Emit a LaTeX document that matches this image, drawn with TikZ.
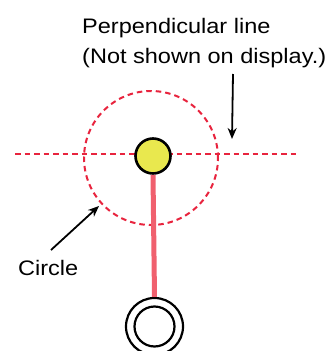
\documentclass[tikz,border=0pt]{standalone}
\usepackage{fontspec}
\setmainfont{Liberation Sans}
\newfontfamily\widefont[FakeStretch=1.12]{Liberation Sans}
\usetikzlibrary{arrows.meta}
\definecolor{dashred}{HTML}{E8243E}
\definecolor{linered}{HTML}{F0606E}
\definecolor{ballyellow}{HTML}{E9E84E}
\tikzset{
  guide/.style={draw=dashred, line width=2pt, dash pattern=on 5.5pt off 4pt},
  callout/.style={draw=black, line width=1.8pt, -{Stealth[length=11pt,width=9pt]}},
  lbl/.style={font=\widefont\fontsize{21}{29.5}\selectfont, inner sep=0pt, anchor=base west, align=left},
}
\begin{document}
\begin{tikzpicture}[x=1pt,y=-1pt]
\useasboundingbox (0,0) rectangle (332,351);
% guide circle and perpendicular line
\node[guide, circle, minimum size=134pt, inner sep=0pt] (gc) at (151,158) {};
\coordinate (pl) at (15,154);
\coordinate (pr) at (296,154);
\draw[guide] (pl) -- (pr);
% pole
\node[circle, draw=black, line width=2.2pt, minimum size=57pt, inner sep=0pt] (base) at (154.5,326.5) {};
\node[circle, draw=black, line width=2.2pt, minimum size=40pt, inner sep=0pt] (basein) at (154.5,326.5) {};
\node[circle, draw=black, fill=ballyellow, line width=2.6pt, minimum size=35pt, inner sep=0pt] (ball) at (153,156) {};
\draw[linered, line width=5pt] (ball.south) -- (base.north);
% labels
\node[lbl] (perp) at (82,63) {Perpendicular line\\(Not shown on display.)};
\node[lbl] (circ) at (18,275) {Circle};
\coordinate (a1s) at (233,74);
\coordinate (a1e) at (232,139);
\draw[callout] (a1s) -- (a1e);
\coordinate (a2s) at (51,250);
\coordinate (a2e) at (99,206);
\draw[callout] (a2s) -- (a2e);
\end{tikzpicture}
\end{document}
